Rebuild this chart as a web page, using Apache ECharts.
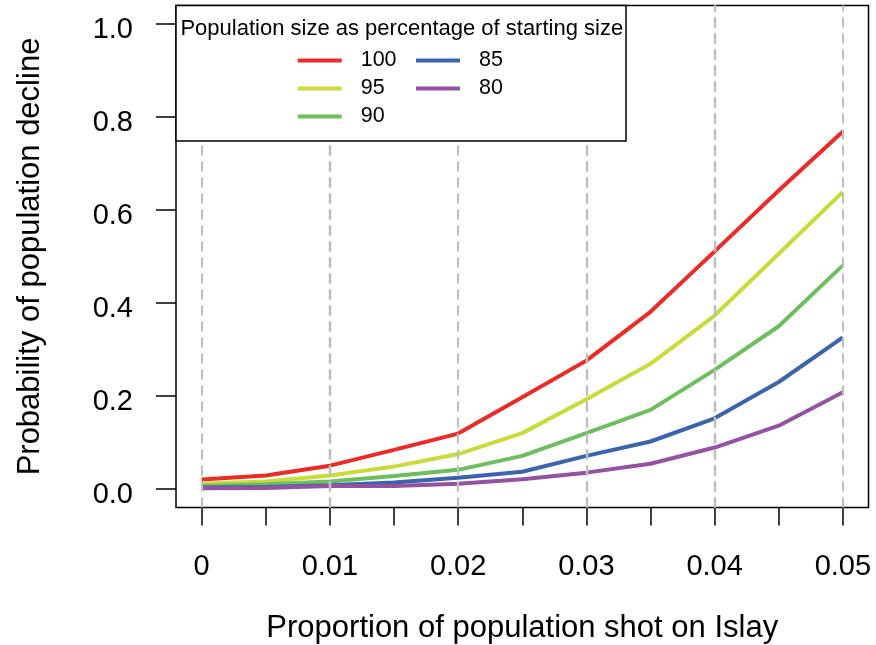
<!DOCTYPE html>
<html>
<head>
<meta charset="utf-8">
<script src="https://cdn.jsdelivr.net/npm/echarts@6/dist/echarts.min.js"></script>
<style>
  html, body { margin: 0; padding: 0; background: #fff; }
  #chart { width: 876px; height: 645px; }
</style>
</head>
<body>
<div id="chart"></div>
<script>
const shotProp = [0, 0.005, 0.01, 0.015, 0.02, 0.025, 0.03, 0.035, 0.04, 0.045, 0.05];
const xLabelVals = [0, 0.01, 0.02, 0.03, 0.04, 0.05];
const yLabelVals = [0, 0.2, 0.4, 0.6, 0.8, 1.0];

const p100 = [0.020, 0.029, 0.050, 0.084, 0.119, 0.197, 0.276, 0.381, 0.511, 0.642, 0.769];
const p95 = [0.011, 0.016, 0.029, 0.048, 0.075, 0.120, 0.193, 0.269, 0.373, 0.506, 0.639];
const p90 = [0.006, 0.010, 0.016, 0.028, 0.041, 0.071, 0.120, 0.170, 0.256, 0.350, 0.481];
const p85 = [0.003, 0.004, 0.008, 0.014, 0.024, 0.037, 0.071, 0.102, 0.152, 0.230, 0.326];
const p80 = [0.0015, 0.002, 0.006, 0.006, 0.011, 0.021, 0.035, 0.054, 0.089, 0.136, 0.208];

const names = ['100', '95', '90', '85', '80'];
const colors = ['#EB2B26', '#C9DA3B', '#6DBE5C', '#3B64AF', '#9452A2'];
const values = [p100, p95, p90, p85, p80];

const font = '"Liberation Sans", Arial, sans-serif';
const chart = echarts.init(document.getElementById('chart'));

const lineSeries = names.map((name, i) => ({
  name,
  type: 'line',
  data: shotProp.map((x, j) => [x, values[i][j]]),
  symbol: 'none',
  color: colors[i],
  lineStyle: { color: colors[i], width: 4 },
  z: 2
}));

// dashed verticals, drawn above the lines like the original
lineSeries.push({
  name: 'grid',
  type: 'line',
  data: [],
  z: 3,
  markLine: {
    silent: true,
    symbol: 'none',
    label: { show: false },
    lineStyle: { color: '#BEBEBE', type: [10, 6], width: 2.2 },
    data: shotProp.map(v => ({ xAxis: v }))
  }
});

const legendBase = {
  orient: 'vertical',
  icon: 'rect',
  itemWidth: 44,
  itemHeight: 4,
  itemGap: 6,
  padding: 0,
  selectedMode: false,
  z: 20,
  textStyle: { fontFamily: font, fontSize: 21.5, color: '#000', padding: [0, 0, 0, 14] }
};

chart.setOption({
  animation: false,
  grid: {
    left: 176, right: 7.5, top: 5.5, bottom: 137.5,
    outerBoundsMode: 'none',
    show: true, borderColor: '#000', borderWidth: 1.5, backgroundColor: 'transparent'
  },
  xAxis: {
    type: 'value',
    min: -0.002,
    max: 0.052,
    axisLine: { show: false, onZero: false },
    splitLine: { show: false },
    axisTick: { show: true, inside: false, length: 18, customValues: shotProp, lineStyle: { color: '#000', width: 1.5 } },
    axisLabel: {
      customValues: xLabelVals,
      formatter: v => (v === 0 ? '0' : v.toFixed(2)),
      fontFamily: font, fontSize: 29, color: '#000', margin: 45
    },
    name: 'Proportion of population shot on Islay',
    nameLocation: 'middle',
    nameGap: 105,
    nameTextStyle: { fontFamily: font, fontSize: 31, color: '#000' }
  },
  yAxis: {
    type: 'value',
    min: -0.04,
    max: 1.04,
    axisLine: { show: false, onZero: false },
    splitLine: { show: false },
    axisTick: { show: true, inside: false, length: 20, customValues: yLabelVals, lineStyle: { color: '#000', width: 1.5 } },
    axisLabel: {
      customValues: yLabelVals,
      formatter: v => v.toFixed(1),
      fontFamily: font, fontSize: 29, color: '#000', margin: 43,
      verticalAlign: 'top',
      lineHeight: 12
    },
    name: 'Probability of population decline',
    nameLocation: 'middle',
    nameGap: 130,
    nameTextStyle: { fontFamily: font, fontSize: 31, color: '#000' }
  },
  legend: [
    Object.assign({}, legendBase, { left: 297.7, top: 49.5, data: ['100', '95', '90'] }),
    Object.assign({}, legendBase, { left: 416, top: 49.5, data: ['85', '80'] })
  ],
  graphic: [
    {
      type: 'rect',
      z: 10,
      shape: { x: 176, y: 5.5, width: 450, height: 135.5 },
      style: { fill: '#fff', stroke: '#000', lineWidth: 1.5 }
    },
    {
      type: 'text',
      z: 20,
      x: 401.8,
      y: 29,
      style: {
        text: 'Population size as percentage of starting size',
        font: '22px ' + font,
        fill: '#000',
        textAlign: 'center',
        textVerticalAlign: 'middle'
      }
    }
  ],
  series: lineSeries
});
</script>
</body>
</html>
